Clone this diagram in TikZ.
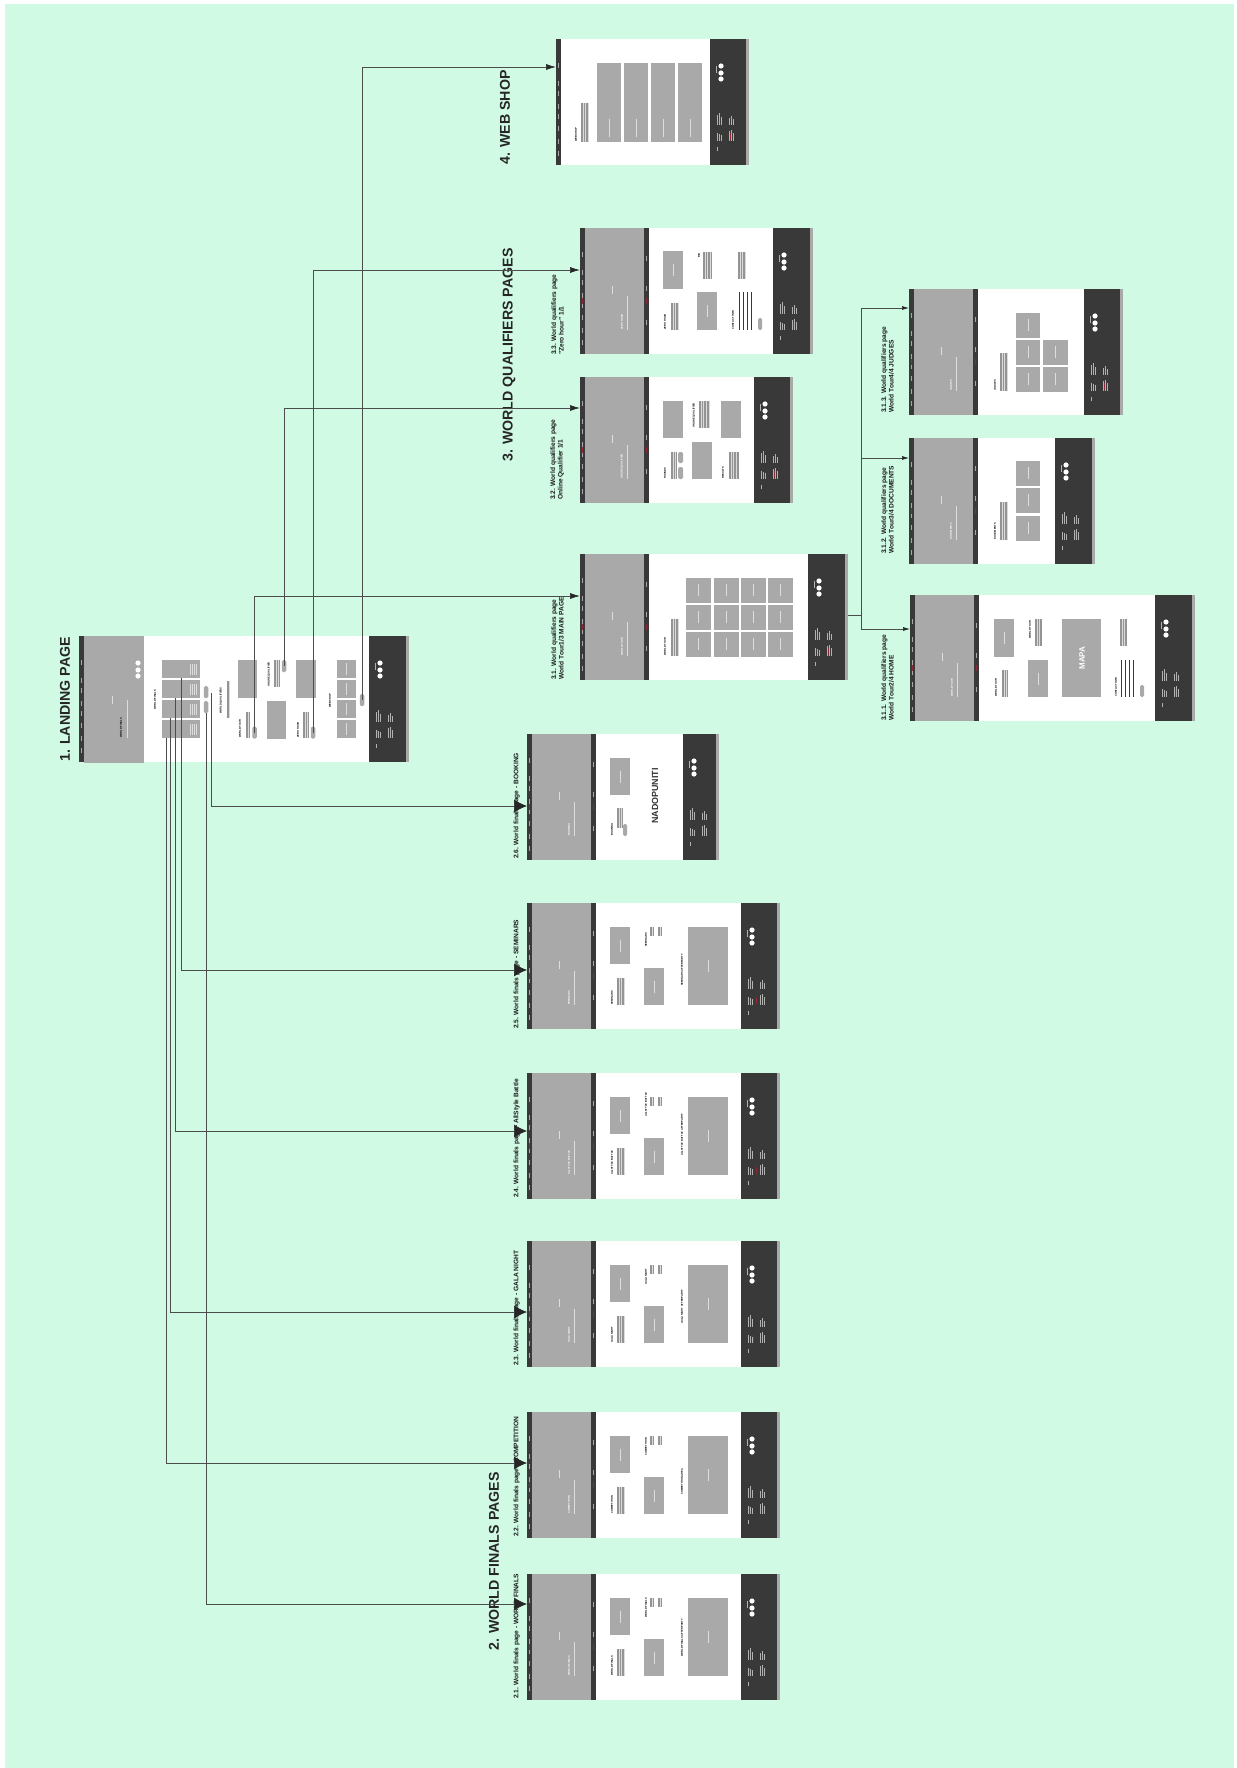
\documentclass[tikz,border=0pt]{standalone}
\usepackage{fontspec}
\setmainfont{Liberation Sans}
\usetikzlibrary{arrows.meta}
\definecolor{mint}{HTML}{D1FAE5}
\definecolor{pagedark}{HTML}{393939}
\definecolor{pagegrey}{HTML}{A9A9A9}
\definecolor{markred}{HTML}{8C2A35}
\newcounter{headno}
\tikzset{
    pageframe/.style={fill=white, inner sep=0pt, outer sep=0pt, anchor=north west, minimum height=126pt},
    bigtitle/.style={rotate=90, anchor=west, inner sep=0pt, font=\fontsize{14.2}{17}\selectfont\bfseries, text=black!85},
    pagetitle/.style={rotate=90, anchor=south west, inner sep=0pt, align=left, font=\fontsize{6.6}{7.5}\selectfont\bfseries, text=black!90},
    headtxt/.style={rotate=90, anchor=west, inner sep=0pt, font=\fontsize{2.6}{3}\selectfont\bfseries},
    smallbtn/.style={fill=pagegrey, rounded corners=1.5pt, inner sep=0pt, outer sep=0pt, minimum width=4.5pt, minimum height=12pt},
    tickline/.style={draw=white!65!black, line width=.5pt},
    footline/.style={draw=white!70!black, line width=.5pt},
    cardbar/.style={draw=white!60!pagegrey, line width=.6pt},
    bodyfill/.style={fill=black!14},
    bodyline/.style={draw=black!42, line width=.45pt},
    link/.style={draw=black!70, line width=.7pt},
    linkbig/.style={link, -{Latex[length=13pt,width=13pt,black!85]}},
    linkmid/.style={link, -{Latex[length=10pt,width=6pt,black!85]}},
    linksmall/.style={link, -{Latex[length=7pt,width=4pt,black!85]}}
}
\newcommand{\logodots}[2]{
    \foreach \dy in {27,34,40} {\fill[white] (#1,#2+\dy) circle (2.6);}
}
\newcommand{\headat}[3]{
    \stepcounter{headno}
    \node[headtxt] (head\theheadno) at (#1,#2) {#3};
}
\newcommand{\bodytext}[4]{
    \fill[bodyfill] (#1,#2) rectangle (#3,#4);
    \pgfmathsetmacro{\bnext}{#1+1.6}
    \foreach \bx in {#1,\bnext,...,#3} {\draw[bodyline] (\bx,#2) -- (\bx,#4);}
}
\newcommand{\blankcard}[4]{\fill[pagegrey] (#1,#2) rectangle (#3,#4);}
\newcommand{\card}[4]{
    \blankcard{#1}{#2}{#3}{#4}
    \draw[cardbar] ({(#1+#3)/2},{(#2+#4)/2-6}) -- ({(#1+#3)/2},{(#2+#4)/2+6});
}
\newcommand{\stripes}[3]{
    \foreach \sx in {0,4,8,12} {\draw[draw=pagedark, line width=.9pt] (#1+\sx,#2) -- (#1+\sx,#3);}
}
% name, x, y, footer left, right edge, x offset of the red mark in the footer (0 for none)
\newcommand{\pagebase}[6]{
    \node[pageframe, minimum width={(#5-#2)*1pt}] (#1) at (#2,#3) {};
    \fill[pagedark] (#2,#3) rectangle (#2+5,#3+126);
    \foreach \ty in {24,42,52,65,75,87,100,112} {\draw[tickline] (#2+2.5,#3+\ty) -- (#2+2.5,#3+\ty+5);}
    \fill[pagedark] (#4,#3) rectangle (#5-3,#3+126);
    \fill[pagegrey] (#5-3,#3) rectangle (#5,#3+126);
    \logodots{#4+11}{#3}
    \draw[footline] (#4+6.5,#3+27) -- (#4+6.5,#3+34);
    \foreach \fx/\fa/\fb in {7/76/86,9/74/86,11/78/86,19/79/86,21/77/86,23/80/86,7/94/102,9/95/102,11/96/102,19/92/102,21/91/102,23/94/102,7/108/112} {
        \draw[footline] (#4+\fx,#3+\fa) -- (#4+\fx,#3+\fb);
    }
    \ifnum#6>0
        \draw[draw=markred, line width=.7pt] (#4+#6,#3+94) -- (#4+#6,#3+101);
    \fi
}
% x, y, heading of the hero
\newcommand{\heropart}[3]{
    \fill[pagegrey] (#1+5,#2) rectangle (#1+64,#2+126);
    \fill[pagedark] (#1+64,#2) rectangle (#1+69,#2+126);
    \foreach \ty in {28,58,92} {\draw[tickline] (#1+66.5,#2+\ty) -- (#1+66.5,#2+\ty+5);}
    \draw[draw=markred, line width=.7pt] (#1+2.5,#2+70) -- (#1+2.5,#2+76);
    \draw[draw=markred, line width=.7pt] (#1+66.5,#2+70) -- (#1+66.5,#2+76);
    \draw[cardbar] (#1+32,#2+58) -- (#1+32,#2+66);
    \draw[cardbar] (#1+47,#2+68) -- (#1+47,#2+102);
    \stepcounter{headno}
    \node[headtxt, text=white] (head\theheadno) at (#1+42,#2+102) {#3};
}
% name, y, red mark, hero heading, left heading, list heading, map heading
\newcommand{\finalspage}[7]{
    \pagebase{#1}{527}{#2}{741}{780}{#3}
    \heropart{527}{#2}{#4}
    \card{610}{#2+24}{630}{#2+61}
    \card{644}{#2+65}{664}{#2+102}
    \card{688}{#2+24}{728}{#2+102}
    \headat{612}{#2+102}{#5}
    \bodytext{617}{#2+75}{625}{#2+102}
    \headat{646}{#2+44}{#6}
    \bodytext{650}{#2+24}{654}{#2+33}
    \bodytext{658}{#2+24}{662}{#2+33}
    \headat{682}{#2+83}{#7}
}
\begin{document}
\begin{tikzpicture}[x=1pt, y=-1pt]
    \useasboundingbox (0,0) rectangle (1236,1768);
    \fill[mint] (5,4) rectangle (1234,1768);

    % landing
    \pagebase{landing}{79}{636}{369}{409}{8}
    \fill[pagegrey] (84,636) rectangle (144,763);
    \logodots{138}{636}
    \draw[cardbar] (112,696) -- (112,704);
    \draw[cardbar] (127,700) -- (127,738);
    \headat{121}{738}{WORLD FINALS}
    \headat{155}{710}{WORLD FINALS}
    \foreach \cy in {660,680,700,720} {
        \blankcard{162}{\cy}{200}{\cy+18}
        \foreach \bx in {190,192,194,196} {\draw[cardbar] (\bx,\cy+4) -- (\bx,\cy+15);}
    }
    \node[smallbtn] (btnfinals) at (206,692) {};
    \node[smallbtn] (btnbook) at (206,707) {};
    \headat{221}{714}{WORLD QUALIFIERS}
    \bodytext{227}{681}{230}{718}
    \blankcard{238}{660}{257}{698}
    \blankcard{267}{701}{286}{739}
    \blankcard{296}{660}{316}{698}
    \headat{240}{738}{WORLD TOUR}
    \bodytext{246}{712}{250}{738}
    \node[smallbtn] (btntour) at (254.5,732.5) {};
    \headat{269}{687}{ONLINE QUALIFIER}
    \bodytext{274}{660}{279}{687}
    \node[smallbtn] (btnonline) at (284,666) {};
    \headat{298}{738}{ZERO HOUR}
    \bodytext{303}{712}{308}{738}
    \node[smallbtn] (btnzero) at (313,732.5) {};
    \headat{330}{708}{WEB SHOP}
    \foreach \cy in {660,680,700,720} {\card{337}{\cy}{356}{\cy+18}}
    \node[smallbtn] (btnshop) at (362,700) {};

    % world finals
    \finalspage{pg21}{1574}{8}{WORLD FINALS}{WORLD FINALS}{WORLD FINALS}{WORLD FINALS AFTERPARTY}
    \finalspage{pg22}{1412}{8}{COMPETITION}{COMPETITION}{COMPETITION}{COMPETITION AREA}
    \finalspage{pg23}{1241}{12}{GALA NIGHT}{GALA NIGHT}{GALA NIGHT}{GALA NIGHT AFTERPARTY}
    \finalspage{pg24}{1073}{15}{ALLSTYLE BATTLE}{ALLSTYLE BATTLE}{ALLSTYLE BATTLE}{ALLSTYLE BATTLE AFTERPARTY}
    \finalspage{pg25}{903}{15}{SEMINARS}{SEMINARS}{SEMINARS}{SEMINARS AFTERPARTY}
    \pagebase{pg26}{527}{734}{683}{719}{0}
    \heropart{527}{734}{BOOKING}
    \card{610}{758}{630}{795}
    \headat{612}{836}{BOOKING}
    \bodytext{617}{808}{622}{828}
    \fill[pagegrey, rounded corners=1.5pt] (623,824) rectangle (627,836);
    \node[rotate=90, inner sep=0pt, font=\fontsize{8.9}{10}\selectfont\bfseries, text=black!80] (nadopuniti) at (655,796) {NADOPUNITI};

    % world qualifiers
    \pagebase{pg31}{580}{554}{808}{848}{20}
    \heropart{580}{554}{WORLD TOUR}
    \foreach \cx in {686,714,741,768} {
        \foreach \cy in {578,605,632} {\card{\cx}{\cy}{\cx+24.5}{\cy+24.5}}
    }
    \headat{665}{656}{WORLD TOUR}
    \bodytext{671}{619}{679}{656}

    \pagebase{pg32}{580}{377}{754}{793}{20}
    \heropart{580}{377}{ONLINE QUALIFIER}
    \blankcard{663}{401}{683}{438}
    \blankcard{721}{401}{741}{438}
    \blankcard{692}{442}{712}{479}
    \headat{665}{479}{ROUNDS}
    \bodytext{671}{452}{676}{479}
    \fill[pagegrey, rounded corners=1.5pt] (678,452) rectangle (683,463);
    \fill[pagegrey, rounded corners=1.5pt] (678,467) rectangle (683,479);
    \headat{694}{428}{ONLINE QUALIFIER}
    \bodytext{699}{401}{710}{428}
    \headat{723}{479}{RESULTS}
    \bodytext{729}{452}{739}{479}

    \pagebase{pg33}{580}{228}{773}{813}{20}
    \heropart{580}{228}{ZERO HOUR}
    \card{663}{251}{683}{289}
    \card{697}{292}{717}{330}
    \headat{665}{330}{ZERO HOUR}
    \bodytext{671}{303}{679}{330}
    \headat{699}{258}{BIO}
    \bodytext{703}{252}{712}{279}
    \bodytext{738}{252}{746}{279}
    \headat{733}{330}{CONTACT INFO}
    \stripes{739}{292}{330}
    \fill[pagegrey, rounded corners=1.5pt] (758,318) rectangle (762,330);

    \pagebase{pg311}{910}{595}{1155}{1195}{20}
    \heropart{910}{595}{WORLD TOUR}
    \card{994}{619}{1014}{657}
    \card{1028}{660}{1048}{697}
    \headat{996}{697}{WORLD TOUR}
    \bodytext{1002}{670}{1008}{697}
    \headat{1030}{639}{WORLD TOUR}
    \bodytext{1035}{619}{1042}{646}
    \blankcard{1062}{619}{1101}{697}
    \node[rotate=90, inner sep=0pt, font=\fontsize{8}{10}\selectfont\bfseries, text=white] (mapa) at (1082,658) {MAPA};
    \bodytext{1120}{619}{1127}{646}
    \headat{1116}{697}{CONTACT INFO}
    \stripes{1121}{660}{697}
    \fill[pagegrey, rounded corners=1.5pt] (1140,685) rectangle (1144,697);

    \pagebase{pg312}{909}{438}{1055}{1095}{20}
    \heropart{909}{438}{DOCUMENTS}
    \foreach \cy in {461,488,516} {\card{1016}{\cy}{1040}{\cy+24.5}}
    \headat{995}{540}{DOCUMENTS}
    \bodytext{1000}{502}{1008}{540}

    \pagebase{pg313}{909}{289}{1084}{1123}{20}
    \heropart{909}{289}{JUDGES}
    \foreach \cy in {313,340,367} {\card{1016}{\cy}{1040}{\cy+24.5}}
    \foreach \cy in {340,367} {\card{1043}{\cy}{1068}{\cy+24.5}}
    \headat{995}{391}{JUDGES}
    \bodytext{1000}{353}{1008}{391}

    % web shop
    \pagebase{pgshop}{556}{39}{710}{749}{20}
    \foreach \cx in {597,624,651,678} {
        \blankcard{\cx}{63}{\cx+24}{142}
        \draw[cardbar] (\cx+12,119) -- (\cx+12,137);
    }
    \headat{576}{142}{WEB SHOP}
    \bodytext{581}{103}{589}{142}

    % titles
    \node[bigtitle] (titleland) at (65,762) {1. LANDING PAGE};
    \node[bigtitle] (titlefinals) at (494,1651) {2. WORLD FINALS PAGES};
    \node[bigtitle] (titlequal) at (509,462) {3. WORLD QUALIFIERS PAGES};
    \node[bigtitle] (titleshop) at (505,165) {4. WEB SHOP};
    \node[pagetitle] (lab21) at (520,1699) {2.1. World finals page -  WORLD FINALS};
    \node[pagetitle] (lab22) at (520,1537) {2.2. World finals page -  COMPETITION};
    \node[pagetitle] (lab23) at (520,1366) {2.3. World finals page -  GALA NIGHT};
    \node[pagetitle] (lab24) at (520,1198) {2.4. World finals page - AllStyle Battle};
    \node[pagetitle] (lab25) at (520,1029) {2.5. World finals page -  SEMINARS};
    \node[pagetitle] (lab26) at (520,859) {2.6. World finals page -  BOOKING};
    \node[pagetitle] (lab31) at (564,680) {3.1. World qualifiers page\\World Tour1/3 MAIN PAGE};
    \node[pagetitle] (lab32) at (564,500) {3.2. World qualifiers page\\Online Qualifier 1/1};
    \node[pagetitle] (lab33) at (564,355) {3.3. World qualifiers page\\"Zero hour" 1/1};
    \node[pagetitle] (lab311) at (894,721) {3.1.1. World qualifiers page\\World Tour2/4 HOME};
    \node[pagetitle] (lab312) at (894,554) {3.1.2. World qualifiers page\\World Tour3/4 DOCUMENTS};
    \node[pagetitle] (lab313) at (894,413) {3.1.3. World qualifiers page\\World Tour4/4 JUDGES};

    % connector ends
    \coordinate (fromcomp) at (166,738);
    \coordinate (fromgala) at (170,718);
    \coordinate (fromstyle) at (175,698);
    \coordinate (fromsem) at (181,678);
    \coordinate (frombook) at (211,693);
    \coordinate (in21) at (527,1604);
    \coordinate (in22) at (527,1463);
    \coordinate (in23) at (527,1312);
    \coordinate (in24) at (527,1131);
    \coordinate (in25) at (527,970);
    \coordinate (in26) at (527,806);
    \coordinate (in31) at (580,596);
    \coordinate (in32) at (580,408);
    \coordinate (in33) at (580,270);
    \coordinate (inshop) at (556,67);
    \coordinate (in311) at (910,629);
    \coordinate (in312) at (909,458);
    \coordinate (in313) at (909,308);
    \coordinate (tourout) at (848,615);
    \coordinate (tourjoin) at (861,615);

    \draw[linkbig] (btnbook.south) |- (in21);
    \draw[linkbig] (fromcomp) |- (in22);
    \draw[linkbig] (fromgala) |- (in23);
    \draw[linkbig] (fromstyle) |- (in24);
    \draw[linkbig] (fromsem) |- (in25);
    \draw[linkbig] (frombook) |- (in26);
    \draw[linkmid] (btntour.center) |- (in31);
    \draw[linkmid] (btnonline.center) |- (in32);
    \draw[linkmid] (btnzero.center) |- (in33);
    \draw[linkmid] (btnshop.center) |- (inshop);
    \draw[link] (tourout) -- (tourjoin);
    \draw[linksmall] (tourjoin) |- (in311);
    \draw[linksmall] (tourjoin) |- (in312);
    \draw[linksmall] (tourjoin) |- (in313);
\end{tikzpicture}
\end{document}
